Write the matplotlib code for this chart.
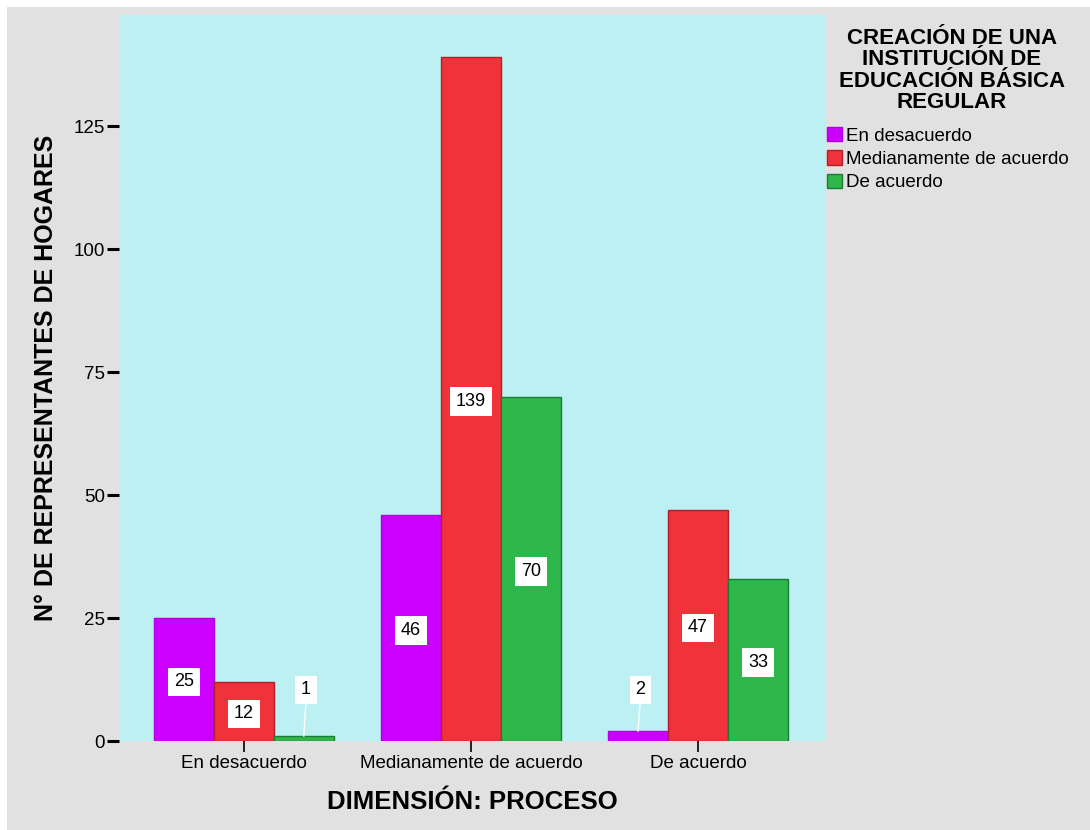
import matplotlib
matplotlib.use("Agg")
import matplotlib.pyplot as plt
import numpy as np

plt.rcParams['font.family'] = ['Liberation Sans', 'DejaVu Sans']

categories = ["En desacuerdo", "Medianamente de acuerdo", "De acuerdo"]
series = ["En desacuerdo", "Medianamente de acuerdo", "De acuerdo"]
en_desacuerdo = [25, 46, 2]
medianamente = [12, 139, 47]
de_acuerdo = [1, 70, 33]
values = [en_desacuerdo, medianamente, de_acuerdo]

colors = ["#cc00ff", "#f0323a", "#2eb84b"]
edges = ["#b000e0", "#b02028", "#1f7a33"]

fig = plt.figure(figsize=(10.9, 8.3), dpi=100, facecolor="white")
# gray panel behind everything
fig.patches.append(plt.Rectangle((7 / 1090, 0), 1, 1 - 7 / 830, transform=fig.transFigure,
                                 facecolor="#e1e1e1", edgecolor="none", zorder=-10))

ax = fig.add_axes([119 / 1090, 89 / 830, 707 / 1090, 726 / 830])
ax.set_facecolor("#bcf0f2")
for s in ax.spines.values():
    s.set_visible(False)

x = np.arange(len(categories))
w = 0.264
box = dict(boxstyle="square,pad=0.32", fc="white", ec="none")
for i, (vals, c, e) in enumerate(zip(values, colors, edges)):
    pos = x + (i - 1) * w
    ax.bar(pos, vals, width=w, color=c, edgecolor=e, linewidth=1, label=series[i], zorder=2)
    for p, v in zip(pos, vals):
        if v < 5:
            # tiny bars: label lifted up with a leader line
            ly = 10.4
            ax.plot([p, p + 0.01], [v, ly - 2], color="white", lw=1, zorder=3)
            ax.text(p + 0.01, ly, str(v), ha="center", va="center", fontsize=13, zorder=4, bbox=box)
        else:
            ax.text(p, v / 2 - 0.5, str(v), ha="center", va="center", fontsize=13, zorder=4, bbox=box)

ax.set_xlim(-0.55, 2.564)
ax.set_ylim(0, 147.6)
ax.set_yticks([0, 25, 50, 75, 100, 125])
ax.set_xticks(x)
ax.set_xticklabels(categories, fontsize=13.5)
ax.tick_params(axis="y", labelsize=13.5, length=9, width=2.2, direction="out", pad=1)
ax.tick_params(axis="x", length=8, width=1.2, pad=2)

fig.text(472 / 1090, 1 - 802 / 830, "DIMENSIÓN: PROCESO", ha="center", va="center",
         fontsize=18.5, fontweight="bold")
fig.text(46 / 1090, 1 - 378 / 830, "N° DE REPRESENTANTES DE HOGARES", ha="center", va="center",
         rotation=90, fontsize=18, fontweight="bold")

# legend heading drawn separately, centered over the entries
fig.text(952 / 1090, 1 - 28 / 830, "CREACIÓN DE UNA\nINSTITUCIÓN DE\nEDUCACIÓN BÁSICA\nREGULAR",
         ha="center", va="top", fontsize=16, fontweight="bold", linespacing=1.03)

leg = ax.legend(loc="upper left", bbox_to_anchor=(827 / 1090, 1 - 127 / 830),
                bbox_transform=fig.transFigure, frameon=False, fontsize=13.5,
                handlelength=0.8, handleheight=0.8, handletextpad=0.2, labelspacing=0.3,
                borderaxespad=0, borderpad=0)

fig.savefig("out.png", dpi=100, facecolor=fig.get_facecolor())
